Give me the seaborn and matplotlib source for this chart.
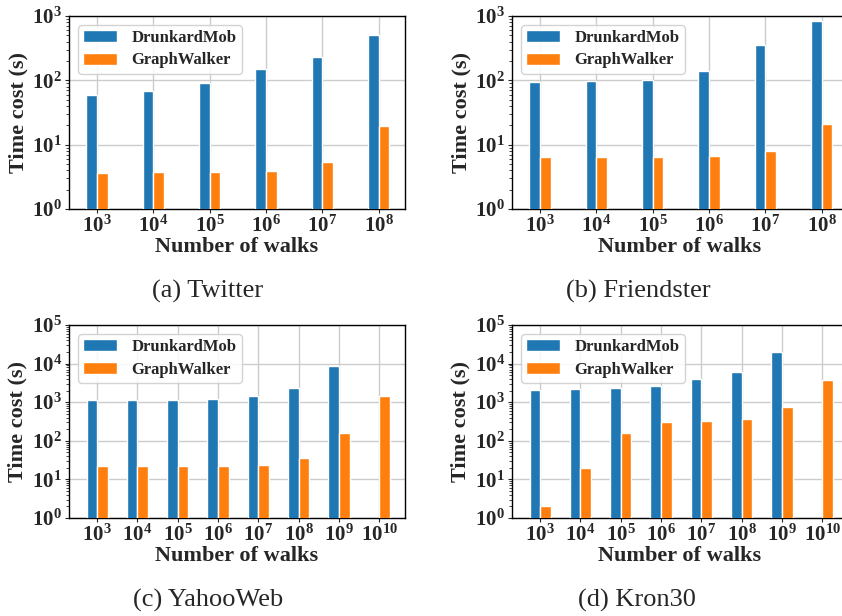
import numpy as np
import pandas as pd
import matplotlib
matplotlib.use('Agg')
import matplotlib.pyplot as plt
from matplotlib.ticker import LogLocator
import seaborn as sns

# data (seconds)
walks_6 = ['$10^{3}$', '$10^{4}$', '$10^{5}$', '$10^{6}$', '$10^{7}$', '$10^{8}$']
walks_8 = walks_6 + ['$10^{9}$', '$10^{10}$']
systems = ['DrunkardMob', 'GraphWalker']

twitter_dm = [60, 69, 92, 150, 231, 508]
twitter_gw = [3.6, 3.7, 3.8, 3.9, 5.4, 19.6]

friendster_dm = [95, 97, 102, 140, 355, 827]
friendster_gw = [6.4, 6.4, 6.5, 6.6, 7.9, 21.1]

yahoo_dm = [1117, 1117, 1140, 1187, 1477, 2288, 8490, np.nan]
yahoo_gw = [21.8, 21.8, 21.8, 22.2, 23.2, 36.6, 162, 1419]

kron_dm = [2070, 2154, 2288, 2681, 3911, 6058, 20370, np.nan]
kron_gw = [2.1, 19.4, 162, 307, 326, 374, 751, 3836]

captions = ['(a) Twitter', '(b) Friendster', '(c) YahooWeb', '(d) Kron30']

sns.set_style('ticks')
plt.rcParams['font.family'] = ['Liberation Serif', 'DejaVu Serif']
plt.rcParams['font.weight'] = 'bold'
plt.rcParams['mathtext.fontset'] = 'custom'
plt.rcParams['mathtext.rm'] = 'Liberation Serif:bold'
plt.rcParams['mathtext.bf'] = 'Liberation Serif:bold'
plt.rcParams['mathtext.it'] = 'Liberation Serif:bold:italic'
plt.rcParams['mathtext.default'] = 'bf'

palette = ['#1f77b4', '#ff7f0e']


def make_df(walks, dm, gw):
    rows = []
    for w, a, b in zip(walks, dm, gw):
        rows.append((w, systems[0], a))
        rows.append((w, systems[1], b))
    return pd.DataFrame(rows, columns=['walks', 'system', 'time'])


fig = plt.figure(figsize=(8.42, 6.16), dpi=100)
W, H = 842, 616
boxes = [(69, 16), (512, 16), (69, 325), (512, 325)]
panels = [
    (walks_6, twitter_dm, twitter_gw, (1, 1e3), 0.38, (-0.5, 5.47)),
    (walks_6, friendster_dm, friendster_gw, (1, 1e3), 0.38, (-0.5, 5.47)),
    (walks_8, yahoo_dm, yahoo_gw, (1, 1e5), 0.53, (-0.7, 7.64)),
    (walks_8, kron_dm, kron_gw, (1, 1e5), 0.53, (-0.7, 7.64)),
]
cap_x = [208, 638, 208, 637]
cap_y = [291, 291, 600, 600]

for i, ((walks, dm, gw, ylim, bw, xlim), (x0, y0)) in enumerate(zip(panels, boxes)):
    ax = fig.add_axes([x0 / W, 1 - (y0 + 193) / H, 336 / W, 193 / H])
    ax.set_yscale('log')
    df = make_df(walks, dm, gw)
    sns.barplot(data=df, x='walks', y='time', hue='system', order=walks,
                hue_order=systems, palette=palette, width=bw, saturation=1,
                errorbar=None, ax=ax, zorder=3)
    ax.set_ylim(*ylim)
    ax.set_xlim(*xlim)
    ax.yaxis.set_major_locator(LogLocator(base=10, numticks=12))
    ax.yaxis.set_minor_locator(LogLocator(base=10, subs=np.arange(2, 10), numticks=12))
    ax.grid(True, which='major', color='#cccccc', linewidth=1.0, zorder=0)
    ax.set_axisbelow(True)
    for s in ax.spines.values():
        s.set_linewidth(1.0)
        s.set_color('black')
    ax.tick_params(axis='both', which='major', length=3, labelsize=15, pad=2)
    ax.tick_params(axis='y', which='minor', length=2)
    ax.set_xlabel('Number of walks', fontsize=16, fontweight='bold', labelpad=0)
    ax.set_ylabel('Time cost (s)', fontsize=16, fontweight='bold', labelpad=3)
    handles, labels = ax.get_legend_handles_labels()
    ax.legend(handles, labels, loc='upper left', fontsize=12, handlelength=2.0,
              handleheight=0.75, handletextpad=0.9, borderaxespad=0.55,
              borderpad=0.3, labelspacing=0.38, framealpha=0.85,
              edgecolor='#cccccc')
    fig.text(cap_x[i] / W, 1 - cap_y[i] / H, captions[i], ha='center', va='center',
             fontsize=19, fontweight='normal', family='Liberation Serif')

fig.savefig('out.png', dpi=100)
